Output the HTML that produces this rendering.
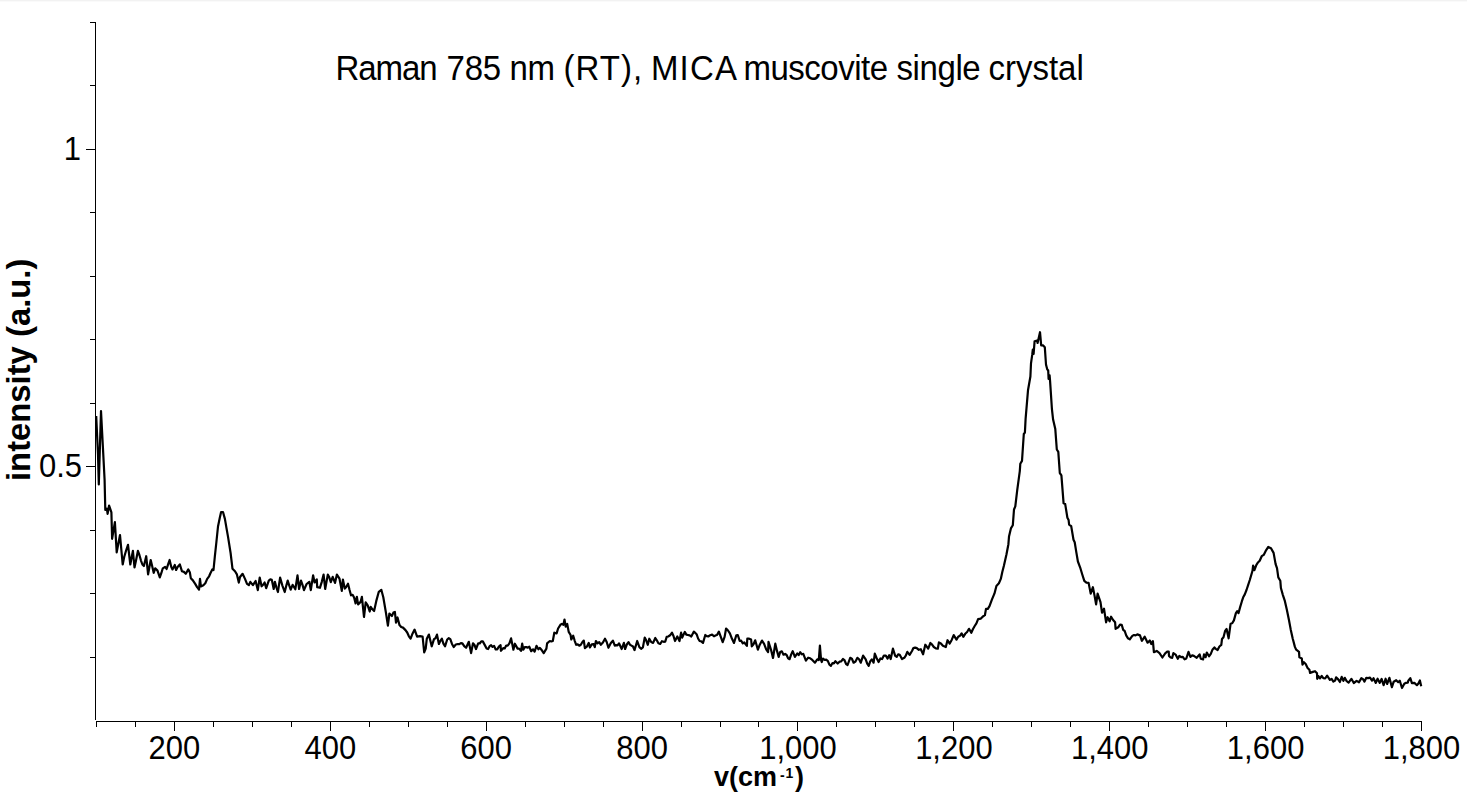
<!DOCTYPE html>
<html><head><meta charset="utf-8"><style>
html,body{margin:0;padding:0;background:#fff;}
body{width:1467px;height:793px;overflow:hidden;position:relative;}
svg{position:absolute;left:0;top:0;}
.t{font-family:"Liberation Sans",sans-serif;}
</style></head><body>
<svg width="1467" height="793" viewBox="0 0 1467 793">
<rect x="0" y="0" width="1467" height="1" fill="#f2f2f2"/>
<rect x="0" y="1" width="1467" height="1" fill="#fafafa"/>
<g stroke="#000" stroke-width="1" fill="none">
<path d="M95.5 22 V720"/>
<path d="M96 721.5 H1422"/>
<path d="M96.5 721.5 V727 M135.5 721.5 V727 M174.5 721.5 V731 M213.5 721.5 V727 M252.5 721.5 V727 M291.5 721.5 V727 M330.5 721.5 V731 M369.5 721.5 V727 M408.5 721.5 V727 M447.5 721.5 V727 M486.5 721.5 V731 M525.5 721.5 V727 M564.5 721.5 V727 M603.5 721.5 V727 M642.5 721.5 V731 M681.5 721.5 V727 M720.5 721.5 V727 M758.5 721.5 V727 M797.5 721.5 V731 M836.5 721.5 V727 M875.5 721.5 V727 M914.5 721.5 V727 M953.5 721.5 V731 M992.5 721.5 V727 M1031.5 721.5 V727 M1070.5 721.5 V727 M1109.5 721.5 V731 M1148.5 721.5 V727 M1187.5 721.5 V727 M1226.5 721.5 V727 M1265.5 721.5 V731 M1304.5 721.5 V727 M1343.5 721.5 V727 M1382.5 721.5 V727 M1421.5 721.5 V731"/>
<path d="M90 22.5 H95.5 M90 85.5 H95.5 M86 149.5 H95.5 M90 212.5 H95.5 M90 276.5 H95.5 M90 339.5 H95.5 M90 403.5 H95.5 M86 466.5 H95.5 M90 530.5 H95.5 M90 593.5 H95.5 M90 657.5 H95.5"/>
</g>
<path d="M96.2 416.0L98.0 454.5L98.8 484.4L101.0 411.0L102.8 445.2L104.6 480.0L105.3 510.0L106.9 508.6L107.6 513.9L109.1 505.5L111.4 512.3L112.1 538.8L114.9 522.2L116.7 552.4L118.3 543.9L120.0 535.0L122.7 564.5L124.2 557.0L126.1 550.5L128.0 544.9L130.3 564.5L132.9 550.9L134.5 567.5L136.2 559.4L137.9 550.9L139.4 555.0L140.9 560.3L142.4 564.5L143.9 566.0L146.2 556.2L148.1 574.3L150.7 560.0L152.2 566.2L153.7 572.8L155.2 568.3L157.5 570.6L159.8 577.4L161.3 573.2L162.8 568.3L165.1 566.8L166.6 569.0L168.1 564.4L169.6 560.0L171.3 566.9L172.5 569.4L174.8 565.0L176.1 570.0L177.6 566.9L179.8 564.4L182.0 571.3L183.9 571.9L185.8 573.8L188.3 569.4L189.9 572.6L190.8 578.2L192.7 580.1L195.2 583.9L197.1 587.1L199.0 589.6L200.0 578.9L200.9 586.4L203.4 585.2L205.3 583.3L207.2 578.9L209.1 576.3L210.4 573.2L212.3 569.4L213.5 570.0L214.8 556.8L216.4 542.0L218.0 526.5L219.8 517.7L221.1 512.0L223.0 512.0L224.9 518.9L226.4 527.6L228.0 536.6L230.6 553.0L232.5 568.8L235.0 571.3L236.9 574.4L238.8 582.6L240.0 577.0L242.6 573.8L245.0 578.9L247.0 583.9L248.9 585.2L250.3 581.8L252.9 585.2L255.6 581.0L257.8 590.1L259.7 577.6L261.6 586.3L263.1 584.8L264.6 582.5L266.2 588.2L268.8 580.6L270.3 579.4L271.8 579.9L273.7 589.0L274.9 581.8L276.4 587.5L277.9 592.0L280.1 577.6L282.4 585.6L284.7 592.0L286.2 586.1L287.7 580.6L289.2 585.4L290.7 589.7L292.6 584.8L295.3 589.3L297.5 575.3L299.1 589.0L301.0 580.6L302.5 584.9L304.0 590.1L306.6 584.0L309.3 581.8L310.8 590.1L313.1 575.3L314.6 582.5L316.8 579.5L317.2 587.1L319.9 587.8L321.8 581.8L323.6 574.6L325.2 589.0L327.8 574.6L329.3 577.3L330.8 582.1L332.7 576.9L335.0 582.9L336.9 574.6L339.5 578.7L341.8 590.8L342.9 579.5L344.8 588.6L346.0 587.2L348.0 583.7L349.5 589.8L351.0 595.3L352.6 594.8L354.1 597.5L355.6 603.4L356.9 596.8L358.1 604.4L360.6 601.9L361.9 596.8L364.0 617.0L365.7 602.4L367.7 605.4L369.7 611.5L370.7 606.9L372.4 609.3L374.1 611.0L376.3 600.9L378.8 591.8L381.3 589.8L383.3 597.3L385.9 612.5L387.9 625.6L389.4 613.5L391.9 616.0L393.4 612.6L394.9 612.0L396.0 622.6L397.5 617.5L399.5 625.1L401.2 627.0L403.0 627.6L405.5 630.1L407.2 632.5L408.9 636.3L410.6 638.7L412.6 633.4L414.6 629.6L417.1 636.7L420.0 636.1L422.6 636.5L424.2 652.4L425.7 648.6L426.8 638.7L428.9 634.6L431.7 646.3L434.0 639.1L435.5 638.2L437.0 634.6L438.9 644.0L440.4 640.8L441.9 638.7L443.4 643.6L445.0 646.3L447.2 639.5L448.8 638.2L450.3 639.1L452.0 643.9L453.7 647.1L455.8 644.5L457.8 644.0L459.3 644.2L460.9 643.1L462.4 643.3L464.2 646.1L466.1 647.8L468.8 641.8L471.1 653.1L473.0 643.3L474.5 645.0L476.0 649.0L478.2 643.3L479.7 643.5L481.3 641.3L482.8 641.4L485.1 645.6L486.6 648.4L488.1 649.0L489.6 646.2L491.1 645.2L492.6 646.9L494.1 645.9L495.7 649.5L497.2 649.3L498.9 646.6L500.6 645.2L500.9 650.8L503.2 648.2L504.7 648.4L506.2 645.5L507.7 645.6L509.4 643.4L511.1 638.4L513.4 649.7L514.9 643.7L517.6 648.6L519.1 648.6L521.0 650.8L522.2 643.7L523.3 649.7L524.8 647.1L526.3 647.1L527.8 647.6L529.3 646.7L531.2 651.2L533.1 649.3L534.6 651.6L536.5 645.9L538.4 649.3L539.9 647.9L541.4 649.7L543.7 653.1L546.4 648.6L547.1 643.3L549.8 641.0L551.3 641.5L552.8 641.0L554.3 632.7L556.6 633.4L558.1 628.5L560.4 624.8L561.9 623.9L563.4 624.8L564.5 619.5L565.7 626.6L567.2 624.0L568.7 631.9L570.6 635.0L571.3 639.5L573.2 635.7L574.7 640.8L576.2 644.8L577.7 644.3L579.3 645.7L580.8 644.8L582.3 642.3L583.8 640.6L584.9 648.2L586.8 646.7L588.7 642.9L589.9 647.4L591.8 644.4L593.6 644.0L594.8 647.1L595.9 641.0L597.5 643.3L599.2 642.1L600.8 644.8L602.9 642.5L605.0 638.7L606.7 642.0L608.4 647.8L610.7 643.3L612.9 640.6L614.8 645.6L616.0 645.2L617.5 645.3L619.0 643.3L621.7 649.0L623.9 642.9L625.1 649.0L626.8 644.5L628.5 642.1L630.0 644.8L631.5 645.6L633.0 646.5L634.5 650.1L637.2 641.0L639.4 647.1L641.1 648.8L642.9 647.4L644.7 637.6L646.2 640.3L647.8 644.8L649.3 638.7L651.2 642.0L653.1 642.9L655.3 638.0L656.8 640.3L658.4 643.3L660.2 644.0L661.9 641.2L663.7 641.8L665.2 641.6L666.7 636.9L668.2 636.5L670.1 635.3L672.0 632.7L673.5 636.0L675.0 641.0L677.3 636.5L679.5 641.0L681.1 632.7L682.2 637.6L684.8 631.9L686.3 634.6L687.9 635.0L689.6 635.4L691.3 636.5L693.9 631.6L696.6 634.2L698.1 638.5L699.6 641.0L701.3 641.4L703.0 642.9L705.3 635.0L706.8 636.2L708.3 636.5L710.2 635.2L712.1 634.6L714.0 636.3L716.0 635.3L717.0 635.0L718.9 631.6L720.8 636.9L722.7 642.1L724.6 636.9L726.1 628.5L728.0 630.5L729.9 633.4L732.0 638.8L734.0 642.9L736.3 635.3L737.8 635.0L739.7 641.0L741.2 640.7L742.8 643.4L744.3 642.5L746.9 645.9L747.3 638.7L749.2 638.7L751.1 639.5L751.8 646.3L753.5 644.2L755.2 640.3L757.9 649.7L759.4 645.6L762.0 640.6L764.1 643.9L766.2 649.3L768.1 652.0L768.5 641.8L771.1 650.1L773.0 658.0L775.3 643.7L777.0 650.9L778.7 656.9L780.2 652.0L781.8 651.3L783.5 654.7L785.1 653.9L786.6 655.0L788.1 658.3L789.6 659.2L791.2 654.4L792.7 651.2L794.9 656.9L797.2 653.5L798.7 655.1L800.2 652.2L801.8 654.3L803.3 653.9L805.9 660.7L808.2 657.7L810.2 658.3L812.3 659.9L815.0 662.7L817.3 659.3L818.8 660.1L819.9 645.7L821.1 660.1L821.8 662.0L823.0 658.6L824.7 659.8L826.4 659.7L827.9 661.1L829.4 664.7L830.9 665.8L832.4 663.2L833.9 663.4L835.4 661.2L837.7 663.5L839.5 661.7L841.2 661.4L843.0 659.0L844.5 660.2L846.1 664.0L847.6 665.0L850.2 657.8L851.9 658.7L853.6 662.7L855.5 661.5L857.4 657.8L859.1 659.3L860.8 662.7L863.1 655.6L865.7 659.3L867.2 663.7L868.7 665.8L870.2 661.4L871.8 659.3L873.6 662.7L874.8 653.7L876.7 658.2L878.6 662.0L880.4 658.4L882.1 659.1L883.9 655.6L885.8 655.7L887.6 658.6L889.2 655.2L890.7 659.0L892.9 648.7L895.2 655.9L896.7 656.9L898.2 654.3L899.7 654.8L902.0 659.0L904.3 657.8L905.8 655.6L907.3 651.8L909.6 654.8L912.0 651.0L913.4 648.1L915.1 647.6L916.8 648.1L918.8 649.8L920.8 649.2L923.1 654.3L925.3 644.7L928.2 648.7L930.4 643.0L932.1 644.6L933.8 647.0L935.8 648.3L937.8 648.7L938.9 642.4L940.9 643.5L942.9 645.8L945.8 647.0L947.5 640.2L949.7 643.6L951.7 639.9L953.7 635.1L956.5 639.6L958.2 636.7L959.9 635.8L961.6 633.3L963.3 636.8L965.2 633.8L967.1 632.0L969.0 628.8L971.3 632.8L973.0 629.0L974.7 626.0L976.4 623.4L978.1 619.2L980.9 618.6L982.9 616.5L984.9 615.2L986.0 608.9L987.8 608.9L989.5 606.1L991.9 599.7L994.5 593.4L996.4 585.9L998.9 583.3L1000.8 578.9L1002.3 571.9L1003.9 565.7L1006.5 554.3L1008.4 544.2L1009.0 536.6L1010.9 528.4L1012.8 525.3L1014.0 509.5L1015.3 506.3L1017.2 490.4L1019.8 471.1L1020.3 463.8L1022.0 460.9L1023.8 434.0L1024.9 432.5L1025.6 418.9L1028.0 390.3L1030.4 376.5L1031.0 363.3L1032.2 354.9L1032.8 349.6L1033.6 354.0L1034.6 341.2L1037.0 340.6L1037.6 343.0L1040.0 332.2L1041.2 345.4L1043.0 345.4L1044.8 347.2L1046.0 364.5L1047.2 369.3L1048.2 370.5L1048.6 379.0L1049.6 375.3L1050.1 381.3L1051.9 408.8L1053.1 419.6L1055.3 429.1L1056.8 449.5L1058.3 451.8L1059.8 473.0L1061.4 475.3L1063.6 503.3L1065.2 504.1L1067.4 517.7L1068.6 520.0L1069.1 524.5L1071.2 526.1L1073.5 539.7L1074.7 542.2L1076.3 552.1L1077.9 561.5L1080.1 567.3L1082.2 574.3L1084.3 580.8L1086.4 582.6L1088.6 582.9L1090.7 593.6L1092.9 587.2L1094.5 595.4L1096.1 604.3L1097.6 593.6L1100.5 602.1L1102.0 612.7L1104.0 608.7L1106.1 622.3L1107.6 617.2L1109.6 621.3L1111.1 616.7L1113.1 620.0L1115.1 622.3L1115.6 628.8L1118.2 627.3L1120.0 624.6L1121.7 624.8L1123.2 629.9L1124.7 631.0L1126.2 635.4L1128.0 638.3L1129.8 639.4L1132.3 635.9L1134.0 635.0L1135.6 635.4L1137.3 634.4L1140.0 635.4L1141.9 640.8L1144.7 636.7L1147.6 642.7L1149.8 640.5L1151.3 644.0L1152.9 641.1L1153.9 652.2L1156.7 650.9L1159.5 653.1L1162.4 657.5L1165.2 653.4L1167.0 651.7L1168.7 651.5L1169.0 655.9L1170.6 657.5L1172.2 657.8L1173.4 653.1L1175.6 654.6L1177.8 658.8L1179.4 655.9L1181.1 657.1L1182.8 656.9L1184.6 659.4L1186.3 658.5L1188.5 651.8L1190.4 656.9L1192.2 655.4L1193.9 655.9L1196.7 657.8L1199.6 654.4L1200.8 658.8L1203.1 659.4L1204.0 654.4L1205.6 657.2L1206.8 652.5L1209.0 656.3L1210.8 653.8L1212.6 649.4L1214.4 647.4L1216.0 649.1L1217.6 650.0L1219.4 646.5L1221.3 644.9L1222.0 639.0L1223.5 637.2L1225.1 630.9L1226.6 629.0L1228.6 638.3L1230.6 623.7L1232.2 623.3L1233.9 620.4L1235.9 613.1L1237.2 611.2L1238.5 613.1L1240.2 606.9L1241.9 601.2L1243.2 597.3L1244.8 594.4L1246.5 590.0L1248.2 584.8L1249.8 580.0L1252.5 570.8L1253.1 565.5L1254.4 570.1L1256.4 564.8L1257.7 562.8L1259.7 560.8L1261.7 556.2L1263.7 554.9L1265.7 550.9L1268.3 546.9L1271.0 548.2L1273.6 552.9L1275.6 564.1L1277.0 568.1L1278.3 577.4L1280.3 580.7L1280.9 588.0L1282.9 595.1L1284.9 601.2L1286.9 610.1L1288.9 619.8L1290.8 629.9L1292.8 639.0L1293.1 640.0L1294.9 646.9L1296.2 649.7L1299.0 651.8L1299.4 657.3L1301.8 658.4L1302.5 664.6L1303.9 662.2L1305.7 664.0L1307.6 667.9L1309.4 669.8L1310.1 672.9L1312.9 671.9L1315.0 671.2L1317.0 673.3L1317.2 678.8L1318.4 676.1L1320.0 678.3L1321.7 676.0L1323.3 678.1L1325.2 678.3L1327.1 675.7L1329.9 679.9L1331.6 678.8L1333.4 681.6L1335.1 680.6L1336.1 677.4L1338.0 679.1L1339.9 682.0L1341.7 676.8L1343.4 680.9L1344.8 677.8L1346.7 681.2L1348.6 682.6L1351.4 678.8L1353.8 683.0L1356.6 680.9L1359.0 682.3L1361.4 678.1L1363.0 679.1L1364.5 681.6L1366.3 677.8L1368.2 678.1L1370.0 677.6L1372.0 680.7L1373.5 678.2L1375.8 682.9L1377.6 678.7L1379.8 682.9L1381.6 678.9L1383.6 685.2L1385.6 678.7L1387.1 684.0L1389.4 677.9L1391.9 687.2L1393.7 681.7L1396.2 680.2L1398.2 682.2L1399.8 680.7L1402.0 688.0L1404.3 683.7L1406.0 682.8L1407.8 682.7L1408.3 680.7L1410.3 678.2L1411.9 683.2L1414.4 682.9L1416.9 685.2L1418.4 683.5L1419.9 680.4L1421.2 686.2" stroke="#000" stroke-width="2.2" fill="none" stroke-linejoin="round"/>
<g class="t" font-size="31" fill="#000">
<text transform="translate(174.4,759) scale(1,1.045)" text-anchor="middle">200</text><text transform="translate(330.3,759) scale(1,1.045)" text-anchor="middle">400</text><text transform="translate(486.2,759) scale(1,1.045)" text-anchor="middle">600</text><text transform="translate(642.1,759) scale(1,1.045)" text-anchor="middle">800</text><text transform="translate(798.0,759) scale(1,1.045)" text-anchor="middle">1,000</text><text transform="translate(953.9,759) scale(1,1.045)" text-anchor="middle">1,200</text><text transform="translate(1109.7,759) scale(1,1.045)" text-anchor="middle">1,400</text><text transform="translate(1265.6,759) scale(1,1.045)" text-anchor="middle">1,600</text><text transform="translate(1421.5,759) scale(1,1.045)" text-anchor="middle">1,800</text>
<text transform="translate(81,160) scale(1,1.045)" text-anchor="end">1</text>
<text transform="translate(82,477) scale(1,1.045)" text-anchor="end">0.5</text>
</g>
<g class="t" font-size="33" fill="#000" transform="translate(0,80) scale(1,1.04) translate(0,-80)"><text x="335.5" y="80" textLength="102.2" lengthAdjust="spacing">Raman</text><text x="446.5" y="80" textLength="54.7" lengthAdjust="spacing">785</text><text x="509.5" y="80" textLength="45.4" lengthAdjust="spacing">nm</text><text x="563.5" y="80" textLength="78.7" lengthAdjust="spacing">(RT),</text><text x="651.0" y="80" textLength="85.9" lengthAdjust="spacing">MICA</text><text x="743.5" y="80" textLength="144.6" lengthAdjust="spacing">muscovite</text><text x="896.5" y="80" textLength="84.2" lengthAdjust="spacing">single</text><text x="988.5" y="80" textLength="95.3" lengthAdjust="spacing">crystal</text></g>
<text class="t" font-weight="bold" font-size="32.8" fill="#000" transform="translate(30,481) rotate(-90)">intensity (a.u.)</text>
<g class="t" font-weight="bold" fill="#000"><text font-size="27" x="714" y="786">v(cm</text><text font-size="14" x="780" y="780">-</text><text font-size="14" x="785.5" y="778">1</text><text font-size="27" x="795" y="786">)</text></g>
</svg>
</body></html>
